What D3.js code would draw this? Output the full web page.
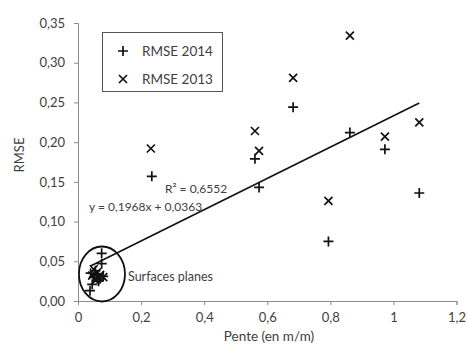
<!DOCTYPE html>
<html><head><meta charset="utf-8">
<script src="https://cdn.jsdelivr.net/npm/d3@7"></script>
<style>body{margin:0;background:#fff;}svg{display:block;font-family:Lato,"Open Sans",sans-serif;}</style>
</head><body>
<script>
const x2014 = [0.234,0.561,0.574,0.682,0.862,0.973,1.082,0.794,0.075,0.075,0.040,0.050,0.060,0.070,0.045,0.038,0.080,0.055,0.065];
const y2014 = [0.157,0.179,0.143,0.244,0.212,0.191,0.136,0.075,0.060,0.047,0.035,0.030,0.033,0.028,0.021,0.013,0.031,0.038,0.025];
const x2013 = [0.231,0.561,0.574,0.682,0.862,0.973,1.082,0.794,0.050,0.060,0.070,0.080,0.055,0.065,0.045];
const y2013 = [0.192,0.214,0.189,0.281,0.334,0.207,0.225,0.126,0.040,0.036,0.033,0.030,0.026,0.029,0.032];
const xTicks = [0,0.2,0.4,0.6,0.8,1,1.2];
const xTickLabels = ["0","0,2","0,4","0,6","0,8","1","1,2"];
const yTicks = [0,0.05,0.10,0.15,0.20,0.25,0.30,0.35];
const yTickLabels = ["0,00","0,05","0,10","0,15","0,20","0,25","0,30","0,35"];
const slope = 0.1968, intercept = 0.0363;
const trendRange = [0.04, 1.082];
const ellipseCenter = [0.076, 0.034], ellipseRadii = [0.073, 0.0346];
const seriesNames = ["RMSE 2014","RMSE 2013"];

const W=468,H=349;
const svg=d3.select("body").append("svg").attr("width",W).attr("height",H);
const x=d3.scaleLinear().domain([0,1.2]).range([78,456.5]);
const y=d3.scaleLinear().domain([0,0.35]).range([301,23]);

const axisColor="#8c8c8c", txt="#404040";
const xa=svg.append("g").attr("transform",`translate(0,${y(0)})`)
  .call(d3.axisBottom(x).tickValues(xTicks).tickFormat((d,i)=>xTickLabels[i]).tickSizeOuter(0).tickSize(4).tickPadding(8));
const ya=svg.append("g").attr("transform",`translate(${x(0)},0)`)
  .call(d3.axisLeft(y).tickValues(yTicks).tickFormat((d,i)=>yTickLabels[i]).tickSizeOuter(0).tickSize(4).tickPadding(9));
[xa,ya].forEach(g=>{g.selectAll("path,line").attr("stroke",axisColor);
  g.selectAll("text").attr("fill",txt).style("font-size","13px").style("font-family","Lato,'Open Sans',sans-serif");});

svg.append("line").attr("x1",x(trendRange[0])).attr("y1",y(slope*trendRange[0]+intercept))
  .attr("x2",x(trendRange[1])).attr("y2",y(slope*trendRange[1]+intercept))
  .attr("stroke","#111").attr("stroke-width",1.6);

const plus=(g,px,py)=>{g.append("path").attr("d",`M${px-5},${py}H${px+5}M${px},${py-5}V${py+5}`).attr("stroke","#111").attr("stroke-width",1.7).attr("fill","none");};
const cross=(g,px,py)=>{g.append("path").attr("d",`M${px-4},${py-4}L${px+4},${py+4}M${px-4},${py+4}L${px+4},${py-4}`).attr("stroke","#111").attr("stroke-width",1.7).attr("fill","none");};
const gm=svg.append("g");
x2013.forEach((v,i)=>cross(gm,x(v),y(y2013[i])));
x2014.forEach((v,i)=>plus(gm,x(v),y(y2014[i])));

svg.append("ellipse").attr("cx",x(ellipseCenter[0])).attr("cy",y(ellipseCenter[1]))
  .attr("rx",x(ellipseRadii[0])-x(0)).attr("ry",y(0)-y(ellipseRadii[1]))
  .attr("fill","none").attr("stroke","#111").attr("stroke-width",1.8);
svg.append("text").attr("x",128).attr("y",281).attr("fill",txt).style("font-size","12.5px").text("Surfaces planes");

svg.append("text").attr("x",165).attr("y",193).attr("fill",txt).style("font-size","12px").text("R² = 0,6552");
svg.append("text").attr("x",89).attr("y",211).attr("fill",txt).style("font-size","12px").text("y = 0,1968x + 0,0363");

svg.append("rect").attr("x",102.5).attr("y",32.5).attr("width",120).attr("height",59).attr("fill","#fff").attr("stroke","#555").attr("stroke-width",1);
const lg=svg.append("g");
plus(lg,123,51); cross(lg,123,79);
seriesNames.forEach((n,i)=>svg.append("text").attr("x",142).attr("y",51+28*i).attr("dy","0.35em").attr("fill",txt).style("font-size","13.5px").text(n));

svg.append("text").attr("transform","translate(24,155) rotate(-90)").attr("text-anchor","middle").attr("fill",txt).style("font-size","13px").text("RMSE");
svg.append("text").attr("x",269).attr("y",341).attr("text-anchor","middle").attr("fill",txt).style("font-size","13.5px").text("Pente (en m/m)");
</script>
</body></html>
